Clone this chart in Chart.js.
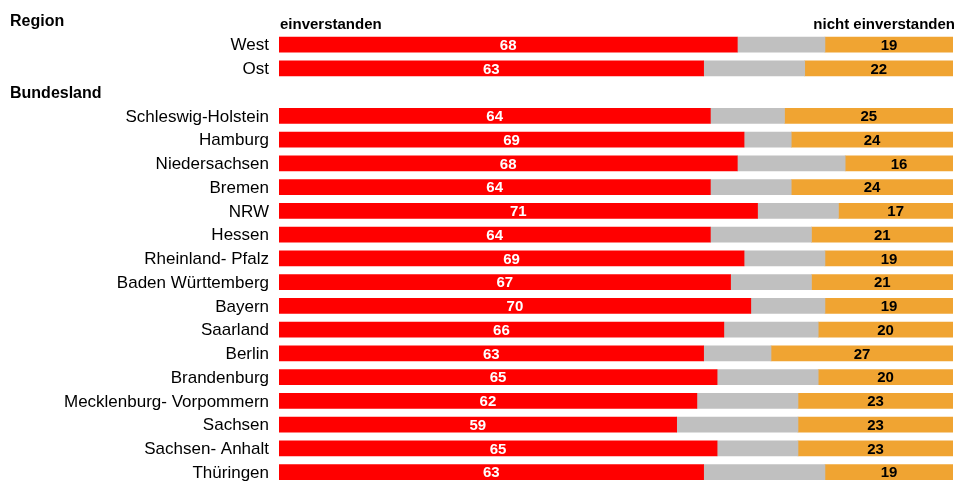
<html><head><meta charset="utf-8">
<script src="https://cdn.jsdelivr.net/npm/chart.js@4.4.1/dist/chart.umd.min.js"></script>
<style>
 body{margin:0;background:#fff;}
 #wrap{position:relative;width:958px;height:484px;}
</style>
</head>
<body>
<div id="wrap"><canvas id="myChart"></canvas></div>
<script>
// rows (null data = group header rows)
var labels = ['Region','West','Ost','Bundesland','Schleswig-Holstein','Hamburg','Niedersachsen','Bremen','NRW','Hessen',
  'Rheinland- Pfalz','Baden Württemberg','Bayern','Saarland','Berlin','Brandenburg','Mecklenburg- Vorpommern',
  'Sachsen','Sachsen- Anhalt','Thüringen'];
var headers = ['Region','Bundesland'];
var einverstanden = [null,68,63,null,64,69,68,64,71,64,69,67,70,66,63,65,62,59,65,63];
var weissNicht = [null,13,15,null,11,7,16,12,12,15,12,12,11,14,10,15,15,18,12,18];
var nichtEinverstanden = [null,19,22,null,25,24,16,24,17,21,19,21,19,20,27,20,23,23,23,19];

var FONT = 'Liberation Sans, Arial, sans-serif';

var extras = {
  id: 'extras',
  afterDatasetsDraw: function(chart) {
    var ctx = chart.ctx, y = chart.scales.y, area = chart.chartArea;
    ctx.save();
    // value labels on red and orange
    [0, 2].forEach(function(di) {
      var meta = chart.getDatasetMeta(di);
      meta.data.forEach(function(bar, i) {
        var v = chart.data.datasets[di].data[i];
        if (v == null) return;
        var p = bar.getCenterPoint();
        ctx.font = 'bold 15px ' + FONT;
        ctx.fillStyle = di === 0 ? '#ffffff' : '#000000';
        ctx.textAlign = 'center';
        ctx.textBaseline = 'middle';
        ctx.fillText(v, p.x, p.y + 1);
      });
    });
    // group headers
    ctx.font = 'bold 16px ' + FONT;
    ctx.fillStyle = '#000';
    ctx.textAlign = 'left';
    ctx.textBaseline = 'middle';
    headers.forEach(function(h) {
      ctx.fillText(h, 10, y.getPixelForValue(labels.indexOf(h)) + 1);
    });
    // column titles
    var ty = y.getPixelForValue(0) + 4;
    ctx.font = 'bold 15px ' + FONT;
    ctx.fillText('einverstanden', area.left + 1, ty);
    ctx.textAlign = 'right';
    ctx.fillText('nicht einverstanden', area.right + 2, ty);
    ctx.restore();
  }
};

var ctx = document.getElementById('myChart');
var myChart = new Chart(ctx, {
  type: 'bar',
  data: {
    labels: labels,
    datasets: [
      {label: 'einverstanden', data: einverstanden, backgroundColor: '#ff0000', barThickness: 15},
      {label: 'weiß nicht', data: weissNicht, backgroundColor: '#c0c0c0', barThickness: 15},
      {label: 'nicht einverstanden', data: nichtEinverstanden, backgroundColor: '#f0a432', barThickness: 15}
    ]
  },
  options: {
    indexAxis: 'y',
    responsive: true,
    maintainAspectRatio: false,
    animation: false,
    layout: {padding: {top: 9, right: 5, bottom: 0, left: 0}},
    plugins: {legend: {display: false}, tooltip: {enabled: false}},
    scales: {
      x: {stacked: true, min: 0, max: 100, display: false},
      y: {
        stacked: true,
        grid: {display: false},
        border: {display: false},
        ticks: {
          padding: 2,
          labelOffset: 1,
          color: '#000',
          font: {family: FONT, size: 17},
          callback: function(v, i) {
            var l = labels[i];
            return headers.indexOf(l) >= 0 ? '' : l;
          }
        },
        afterFit: function(s) {
          s.width = 279;
          s.paddingTop = 0;
          s.paddingBottom = 0;
        }
      }
    }
  },
  plugins: [extras]
});
</script>
</body></html>
